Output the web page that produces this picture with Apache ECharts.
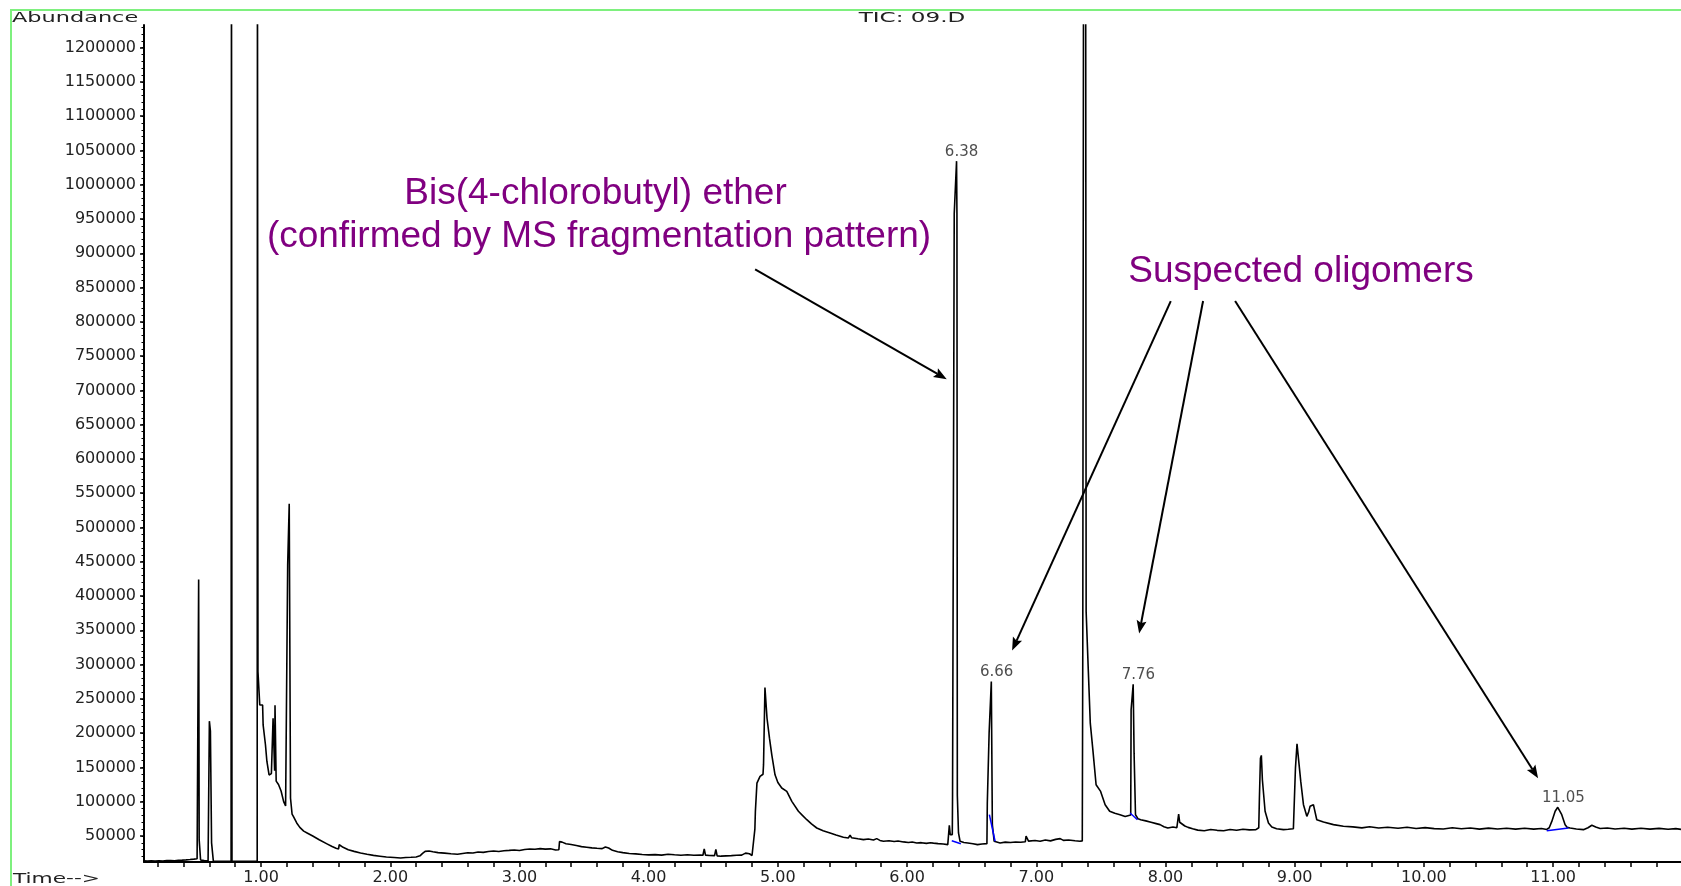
<!DOCTYPE html>
<html><head><meta charset="utf-8">
<style>html,body{margin:0;padding:0;background:#fff}#c{width:1681px;height:886px}</style>
<script src="https://cdn.jsdelivr.net/npm/echarts@6/dist/echarts.min.js"></script>
</head><body><div id="c"></div>
<script>
// ---- data (time in min, abundance) ----
const seg1 = [[0.094,13600],[0.12,13300],[0.15,13700],[0.18,13400],[0.21,13900],[0.24,13500],[0.27,14000],[0.30,14200],[0.33,13900],[0.36,14400],[0.39,14700],[0.42,15100],[0.45,15600],[0.48,16200],[0.505,16800],[0.515,17200],
[0.517,424000],[0.521,44600],[0.528,44600],[0.532,15000],[0.56,14000],[0.59,13500],[0.598,13500],
[0.600,217400],[0.606,217400],[0.608,202800],[0.614,202800],[0.617,40000],[0.627,40000],[0.631,13000],[0.68,13100],[0.72,12900],[0.768,13000],
[0.771,1400000],[0.775,13000],[0.85,13000],[0.93,13000],[0.970,13000],
[0.972,1400000],[0.975,1400000],[0.976,290000],[0.987,290000],[0.990,241000],[1.012,241000],[1.016,212000],[1.030,212000],[1.034,183000],[1.040,183000],[1.045,159000],[1.057,159000],[1.062,139000],[1.080,141000],[1.091,141700],
[1.093,221700],[1.103,221700],[1.105,145000],[1.108,240700],[1.114,240700],[1.117,130000],[1.135,125000],[1.155,115500],[1.175,100000],[1.19,93700],[1.203,91000],
[1.206,445000],[1.216,445000],[1.218,534700],[1.225,534700],[1.228,105000],[1.234,105000],[1.24,82000],[1.25,78600],[1.276,69000],[1.30,62500],[1.33,57000],[1.36,54000],[1.40,50000],[1.45,44500],[1.51,38500],[1.55,34500],[1.58,32000],[1.60,31000],[1.605,37200],[1.62,38700],[1.635,33400],[1.675,30000],[1.72,27500],[1.77,25100],[1.82,23200],[1.87,21700],[1.92,20500],[1.97,19300],[2.03,18500],[2.08,17800]];
const seg2 = [[2.12,18500],[2.16,18900],[2.20,19400],[2.23,21000],[2.25,24500],[2.27,27500],[2.30,28000],[2.33,27000],[2.37,25700],[2.42,25000],[2.47,24000],[2.52,23300],[2.56,24500],[2.60,25500],[2.64,25200],[2.68,26700],[2.72,26000],[2.76,27300],[2.80,28000],[2.84,27400],[2.88,28500],[2.92,29000],[2.96,29600],[3.00,28800],[3.04,30200],[3.08,31000],[3.12,30500],[3.16,31500],[3.20,30800],[3.24,31200],[3.28,29600],[3.305,29800],
[3.31,41700],[3.33,41000],[3.36,38700],[3.40,37500],[3.44,36000],[3.48,34400],[3.52,33500],[3.56,32600],[3.60,32000],[3.64,31500],[3.665,34000],[3.69,32500],[3.72,29000],[3.76,27000],[3.80,25700],[3.85,24500],[3.90,23800],[3.95,23000],[4.00,22400],[4.05,22800],[4.10,22000],[4.15,23300],[4.20,22500],[4.25,21800],[4.30,22600],[4.35,21900],[4.40,22000],[4.42,21800],[4.43,31000],[4.44,22000],[4.47,21500],[4.51,21300],[4.52,30500],[4.53,21000],[4.56,20500],[4.60,20900],[4.64,21300],[4.68,21800],[4.72,22000],[4.75,25000],[4.78,24000],[4.80,21500],[4.815,21000]];
const seg3 = [[4.822,60000],[4.826,86000],[4.835,86000],[4.838,127000],[4.862,137000],[4.885,140000],[4.889,154000],[4.897,154000],[4.900,266400],[4.912,266400],[4.916,221700],[4.928,221700],[4.935,192600],[4.953,168300],[4.978,139200],[5.00,128000],[5.03,119900],[5.069,115000],[5.108,100500],[5.159,86000],[5.19,80000],[5.224,73700],[5.26,67500],[5.301,61600],[5.35,57500],[5.404,54400],[5.45,51500],[5.507,48100],[5.545,47000],[5.559,51000],[5.57,47500],[5.62,45800],[5.662,44700],[5.70,45500],[5.74,44000],[5.765,46100],[5.79,43500],[5.817,42300],[5.86,43000],[5.90,41800],[5.93,42600],[5.972,41300],[6.01,40500],[6.04,41200],[6.075,39800],[6.11,40200],[6.15,39200],[6.18,40000],[6.204,39500],[6.24,38800],[6.28,38200],[6.315,37300]];
const seg4 = [[6.325,38000],[6.327,65600],[6.331,65600],[6.334,52000],[6.350,52000],[6.352,109200],[6.362,109200],[6.365,958000],[6.380,958000],[6.383,1034400],[6.386,958000],[6.389,109200],[6.395,109200],[6.398,54400],[6.41,42300],[6.44,40500],[6.47,39800],[6.51,38600],[6.545,37300],[6.58,38200],[6.618,38800],
[6.621,98000],[6.632,98000],[6.635,200000],[6.650,200000],[6.652,275200],[6.657,275200],[6.660,66500],[6.668,66500],[6.674,42300],[6.72,39800],[6.76,41000],[6.80,40500],[6.84,41200],[6.88,40800],[6.915,41500],[6.921,49600],[6.94,42500],[6.99,43300],[7.03,42200],[7.07,44000],[7.11,42800],[7.15,45000],[7.185,46100],[7.21,43500],[7.25,44200],[7.30,43000],[7.338,42300],[7.356,42800],
[7.360,326000],[7.366,1400000],[7.382,1400000],[7.386,377000],[7.398,377000],[7.403,290000],[7.418,214500],[7.438,175600],[7.463,124700],[7.498,115000],[7.533,95600],[7.568,86000],[7.608,83000],[7.648,81000],[7.688,78500],[7.731,80500],
[7.734,233900],[7.748,233900],[7.750,271300],[7.754,271300],[7.757,170800],[7.765,170800],[7.768,81000],[7.788,75000],[7.808,73700],[7.848,72000],[7.888,70000],[7.928,68000],[7.958,66500],[7.988,63500],[8.018,61600],[8.058,63000],[8.088,62000],[8.098,64000],[8.102,82000],[8.11,70000],[8.15,64500],[8.162,66400],[8.175,62500],[8.21,60500]];
const seg5 = [[8.25,58500],[8.30,57700],[8.35,59300],[8.40,58200],[8.45,57600],[8.50,59300],[8.55,58400],[8.60,59800],[8.65,58800],[8.70,59200],[8.722,62000],
[8.727,105300],[8.735,163500],[8.742,167500],[8.750,132000],[8.760,132000],[8.771,86000],[8.797,69000],[8.823,63100],[8.86,60500],[8.913,59200],[8.95,59800],[8.99,60500],
[9.006,149000],[9.018,184400],[9.032,184400],[9.047,129600],[9.068,95600],[9.094,78600],[9.108,85000],[9.119,93200],[9.145,95600],[9.171,73700],[9.223,70400],[9.30,66500],[9.377,64100],[9.45,63200],[9.52,61800],[9.58,63400],[9.65,61500],[9.72,62800],[9.80,61200],[9.87,62600],[9.94,60800],[10.01,62100],[10.08,60700],[10.15,60200],[10.22,61900],[10.29,60500],[10.36,61700],[10.43,60000],[10.50,61400],[10.57,60100],[10.64,61300],[10.71,60000],[10.78,61200],[10.85,59900],[10.91,60900],[10.951,59500],[10.97,62000],[10.99,71200],[11.016,86000],[11.036,91800],[11.046,91800],[11.067,81000],[11.093,66500],[11.11,62500],[11.132,61600],[11.18,60200],[11.235,59200],[11.27,62000],[11.30,65600],[11.33,63000],[11.364,60800],[11.42,61600],[11.48,60100],[11.55,61300],[11.61,60000],[11.68,61200],[11.75,59900],[11.82,61000],[11.89,59800],[11.95,60700],[11.99,59600]];

const peakLabels = [['6.38',6.383,1034400],['6.66',6.655,275200],['7.76',7.752,271300],['11.05',11.041,91800]];
const integBase1 = [[6.346,43000],[6.416,38700]];
const integBase2 = [[6.637,81000],[6.681,42300]];
const integBase3 = [[7.726,83500],[7.783,73700]];
const integBase4 = [[10.951,57700],[11.119,61600]];
const arrowFrom = [[4.824,876400],[8.041,830300],[8.291,830300],[8.539,830300]];
const arrowTo   = [[6.307,716400],[6.813,320500],[7.796,345300],[10.884,134200]];

const xTickLabels = [1,2,3,4,5,6,7,8,9,10,11];
const yTickLabels = [50000,100000,150000,200000,250000,300000,350000,400000,450000,500000,550000,600000,650000,700000,750000,800000,850000,900000,950000,1000000,1050000,1100000,1150000,1200000];

// tick positions (axis decoration, not data)
const xTicks = []; for (let i = 1; i <= 59; i++) xTicks.push(Math.round(i * 20) / 100);
const yMinor = []; for (let v = 20000; v <= 1230000; v += 10000) yMinor.push(v);

const tic = seg1.concat(seg2, seg3, seg4, seg5);

const chart = echarts.init(document.getElementById('c'), null, {renderer: 'canvas'});
const blue = (d) => ({type:'line', data:d, symbol:'none', silent:true, z:3, lineStyle:{color:'#0000ff', width:1.5}});
chart.setOption({
  animation: false,
  backgroundColor: '#fff',
  textStyle: {fontFamily: 'DejaVu Sans'},
  grid: {left: 144, right: 0, top: 25, bottom: 22},
  xAxis: {
    type: 'value', min: 0.094, max: 11.99,
    axisLine: {show: true, onZero: false, lineStyle: {color: '#000', width: 2}},
    axisTick: {show: true, length: 5, customValues: xTicks, lineStyle: {color: '#000', width: 1.5}},
    axisLabel: {customValues: xTickLabels, formatter: v => v.toFixed(2), color: '#222', fontFamily: 'DejaVu Sans', fontSize: 16, margin: 8},
    splitLine: {show: false}
  },
  yAxis: [{
    type: 'value', min: 12000, max: 1233000,
    axisLine: {show: true, onZero: false, lineStyle: {color: '#000', width: 2}},
    axisTick: {show: true, length: 4, customValues: yTickLabels, lineStyle: {color: '#000', width: 1.5}},
    axisLabel: {customValues: yTickLabels, formatter: v => String(v), color: '#222', fontFamily: 'DejaVu Sans', fontSize: 16, margin: 8},
    splitLine: {show: false}
  }, {
    type: 'value', min: 12000, max: 1233000, position: 'left',
    axisLine: {show: false},
    axisTick: {show: true, length: 2.5, customValues: yMinor, lineStyle: {color: '#000', width: 1}},
    axisLabel: {show: false},
    splitLine: {show: false}
  }],
  series: [{
    type: 'line', name: 'TIC', data: tic, symbol: 'none', silent: true, clip: true, z: 2,
    lineStyle: {color: '#000', width: 1.6}
  },
  blue(integBase1), blue(integBase2), blue(integBase3), blue(integBase4),
  {
    type: 'scatter', silent: true, symbolSize: 1, itemStyle: {color: 'rgba(0,0,0,0)'}, z: 4,
    data: peakLabels.map(p => ({name: p[0], value: [p[1], p[2]]})),
    label: {show: true, position: 'top', distance: 1, offset: [5, 0], formatter: p => p.name, color: '#222', fontFamily: 'DejaVu Sans', fontSize: 15}
  },
  {
    type: 'custom', silent: true, z: 6,
    data: arrowFrom.map((f, i) => [f[0], f[1], arrowTo[i][0], arrowTo[i][1]]),
    encode: {x: [0, 2], y: [1, 3]},
    renderItem: (params, api) => {
      const a = api.coord([api.value(0), api.value(1)]);
      const b = api.coord([api.value(2), api.value(3)]);
      const dx = b[0] - a[0], dy = b[1] - a[1];
      const L = Math.hypot(dx, dy), ux = dx / L, uy = dy / L;
      const hl = 13, hw = 5;
      const base = [b[0] - ux * hl, b[1] - uy * hl];
      const notch = [b[0] - ux * hl * 0.82, b[1] - uy * hl * 0.82];
      return {type: 'group', children: [
        {type: 'line', shape: {x1: a[0], y1: a[1], x2: notch[0], y2: notch[1]}, style: {stroke: '#000', lineWidth: 2}},
        {type: 'polygon', shape: {points: [b, [base[0] - uy * hw, base[1] + ux * hw], notch, [base[0] + uy * hw, base[1] - ux * hw]]}, style: {fill: '#000'}}
      ]};
    }
  }],
  graphic: [
    {type: 'line', z: 20, shape: {x1: 11, y1: 10, x2: 11, y2: 886}, style: {stroke: '#7ef07e', lineWidth: 2}},
    {type: 'line', z: 20, shape: {x1: 10, y1: 10, x2: 1681, y2: 10}, style: {stroke: '#7ef07e', lineWidth: 2}},
    {type: 'text', z: 20, x: 12, y: 18, scaleX: 1.6, style: {text: 'Abundance', fontFamily: 'DejaVu Sans', fontSize: 14, fill: '#222', align: 'left', verticalAlign: 'middle', textAlign: 'left', textVerticalAlign: 'middle'}},
    {type: 'text', z: 20, x: 912, y: 18, scaleX: 1.65, style: {text: 'TIC: 09.D', fontFamily: 'DejaVu Sans', fontSize: 14, fill: '#222', align: 'center', verticalAlign: 'middle', textAlign: 'center', textVerticalAlign: 'middle'}},
    {type: 'text', z: 20, x: 13, y: 879, scaleX: 1.55, style: {text: 'Time-->', fontFamily: 'DejaVu Sans', fontSize: 14, fill: '#222', align: 'left', verticalAlign: 'middle', textAlign: 'left', textVerticalAlign: 'middle'}},
    {type: 'text', z: 20, x: 595.5, y: 194, style: {text: 'Bis(4-chlorobutyl) ether', fontFamily: 'Liberation Sans', fontSize: 37, fill: '#800080', align: 'center', verticalAlign: 'middle', textAlign: 'center', textVerticalAlign: 'middle'}},
    {type: 'text', z: 20, x: 599, y: 237, style: {text: '(confirmed by MS fragmentation pattern)', fontFamily: 'Liberation Sans', fontSize: 37, fill: '#800080', align: 'center', verticalAlign: 'middle', textAlign: 'center', textVerticalAlign: 'middle'}},
    {type: 'text', z: 20, x: 1301, y: 272, style: {text: 'Suspected oligomers', fontFamily: 'Liberation Sans', fontSize: 37, fill: '#800080', align: 'center', verticalAlign: 'middle', textAlign: 'center', textVerticalAlign: 'middle'}}
  ]
});
</script></body></html>
